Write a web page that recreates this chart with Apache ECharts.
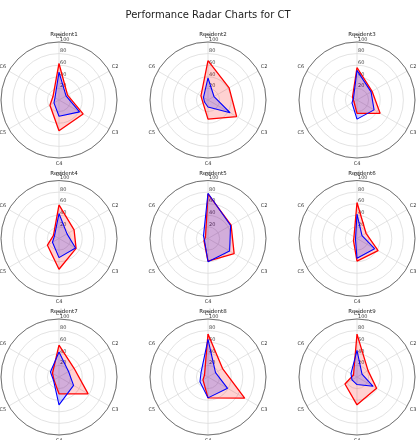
<!DOCTYPE html>
<html>
<head>
<meta charset="utf-8">
<script src="https://cdn.jsdelivr.net/npm/echarts@6/dist/echarts.min.js"></script>
<style>
html,body{margin:0;padding:0;background:#fff;}
#chart{width:416px;height:440px;}
</style>
</head>
<body>
<div id="chart"></div>
<script>
const categories = ['C1', 'C2', 'C3', 'C4', 'C5', 'C6'];
const residents = ['Resident1', 'Resident2', 'Resident3', 'Resident4', 'Resident5', 'Resident6', 'Resident7', 'Resident8', 'Resident9'];
const radialTicks = [20, 40, 60, 80, 100];
// red series (per resident, C1..C6)
const redScores = [
  [63, 17, 48, 53, 18, 12],
  [68, 42, 57, 33, 10, 14],
  [56, 30, 46, 23, 6, 9],
  [58, 30, 34, 53, 23, 11],
  [77, 46, 52, 39, 8, 5],
  [62, 18, 42, 39, 7, 6],
  [55, 30, 58, 29, 10, 13],
  [74, 29, 73, 36, 10, 7],
  [74, 22, 39, 48, 24, 7]
];
// blue series (per resident, C1..C6)
const blueScores = [
  [48, 14, 41, 28, 10, 8],
  [38, 12, 44, 12, 7, 9],
  [51, 28, 34, 33, 10, 7],
  [43, 16, 33, 33, 13, 9],
  [78, 45, 43, 40, 7, 9],
  [42, 10, 35, 34, 3, 3],
  [43, 19, 29, 48, 11, 17],
  [65, 15, 39, 36, 16, 14],
  [46, 10, 32, 13, 10, 12]
];

const colX = [59, 208, 357];
const rowY = [100, 238.5, 377];
const R = 58;
const step = 360 / categories.length;
const FONT = 'DejaVu Sans';

const polar = [], angleAxis = [], radiusAxis = [], series = [], titles = [];
titles.push({
  text: 'Performance Radar Charts for CT', left: 'center', top: 5,
  textStyle: {fontFamily: FONT, fontSize: 10, fontWeight: 'normal', color: '#222'}
});

function toPolar(vals) {
  const pts = vals.map((v, i) => [v, i * step]);
  pts.push([vals[0], 360]);
  return pts;
}

residents.forEach((name, k) => {
  const cx = colX[k % 3], cy = rowY[Math.floor(k / 3)];
  polar.push({center: [cx, cy], radius: R});
  angleAxis.push({
    polarIndex: k, type: 'value', min: 0, max: 360, interval: step,
    startAngle: 90, clockwise: true,
    axisLine: {show: true, lineStyle: {color: '#555', width: 0.8}},
    axisTick: {show: false},
    axisLabel: {
      show: true, margin: 3, fontFamily: FONT, fontSize: 5, color: '#333',
      formatter: v => (v < 360 ? categories[Math.round(v / step)] : '')
    },
    splitLine: {show: true, lineStyle: {color: '#dcdcdc', width: 0.8}}
  });
  radiusAxis.push({
    polarIndex: k, type: 'value', min: 0, max: 100, interval: 20,
    axisLine: {show: false}, axisTick: {show: false},
    axisLabel: {
      show: true, fontFamily: FONT, fontSize: 5, color: '#444',
      margin: -1, align: 'left', verticalAlign: 'bottom',
      formatter: v => (radialTicks.indexOf(v) >= 0 ? String(v) : '')
    },
    splitLine: {show: true, lineStyle: {color: '#dcdcdc', width: 0.8}}
  });
  titles.push({
    text: name, left: cx, top: cy - 73, textAlign: 'center',
    textStyle: {fontFamily: FONT, fontSize: 5.5, fontWeight: 'normal', color: '#222'}
  });
  series.push({
    type: 'line', coordinateSystem: 'polar', polarIndex: k,
    data: toPolar(redScores[k]), symbol: 'none', smooth: false, silent: true,
    lineStyle: {color: '#ff0000', width: 1.3},
    areaStyle: {color: 'rgba(255,0,0,0.25)'}
  });
  series.push({
    type: 'line', coordinateSystem: 'polar', polarIndex: k,
    data: toPolar(blueScores[k]), symbol: 'none', smooth: false, silent: true,
    lineStyle: {color: '#0000ff', width: 1.1},
    areaStyle: {color: 'rgba(0,0,255,0.25)'}
  });
});

const chart = echarts.init(document.getElementById('chart'), null, {renderer: 'canvas'});
chart.setOption({
  animation: false,
  backgroundColor: '#fff',
  title: titles,
  polar: polar,
  angleAxis: angleAxis,
  radiusAxis: radiusAxis,
  series: series
});
</script>
</body>
</html>
